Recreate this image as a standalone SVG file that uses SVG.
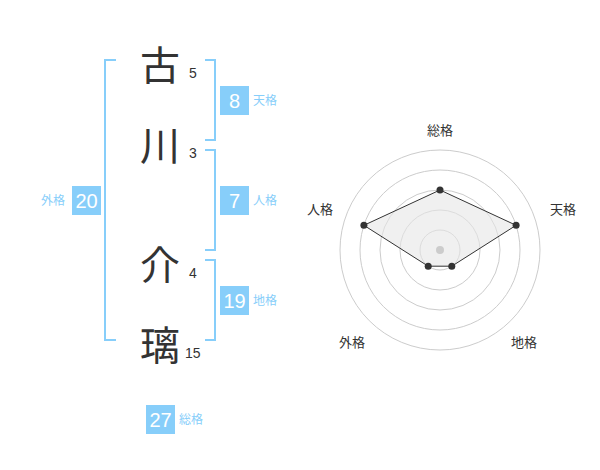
<svg xmlns="http://www.w3.org/2000/svg" width="600" height="470" viewBox="0 0 600 470">
<style>
.kanji{font-family:"Noto Sans CJK JP","Noto Sans CJK SC",sans-serif;font-size:40px;fill:#333;text-anchor:middle}
.strk{font-family:"Liberation Sans",Arial,sans-serif;font-size:14px;fill:#333}
.brk{fill:none;stroke:#87cefa;stroke-width:2}
.box{fill:#87cefa}
.bnum{font-family:"Liberation Sans",Arial,sans-serif;font-size:20px;fill:#fff;text-anchor:middle}
.blab{font-family:"Noto Sans CJK JP",sans-serif;font-size:12px;fill:#87cefa}
.ring{fill:none;stroke:#ccc;stroke-width:1}
.rlab{font-family:"Noto Sans CJK JP",sans-serif;font-size:13px;fill:#333;text-anchor:middle}
.pt{fill:#333}
</style>
<rect width="600" height="470" fill="#fff"/>
<g id="connectors">
<path class="brk" d="M116,60 H105 V340 H116"/>
<path class="brk" d="M205,60 H215 V140 H205"/>
<path class="brk" d="M205,150 H215 V250 H205"/>
<path class="brk" d="M205,260 H215 V340 H205"/>
</g>
<g id="char-1"><text class="kanji" x="160" y="80">古</text><text class="strk" x="189" y="78">5</text></g>
<g id="char-2"><text class="kanji" x="160" y="160">川</text><text class="strk" x="189" y="158">3</text></g>
<g id="char-3"><text class="kanji" x="160" y="280">介</text><text class="strk" x="189" y="278">4</text></g>
<g id="char-4"><text class="kanji" x="160" y="360">璃</text><text class="strk" x="185" y="358">15</text></g>
<g id="tenkaku"><rect class="box" x="220" y="86" width="29" height="29"/><text class="bnum" x="234.5" y="108">8</text><text class="blab" x="253" y="105">天格</text></g>
<g id="jinkaku"><rect class="box" x="220" y="186" width="29" height="29"/><text class="bnum" x="234.5" y="208">7</text><text class="blab" x="253" y="205">人格</text></g>
<g id="chikaku"><rect class="box" x="220" y="286" width="29" height="29"/><text class="bnum" x="234.5" y="308">19</text><text class="blab" x="253" y="305">地格</text></g>
<g id="gaikaku"><rect class="box" x="72" y="186" width="29" height="29"/><text class="bnum" x="86.5" y="208">20</text><text class="blab" x="41" y="205">外格</text></g>
<g id="soukaku"><rect class="box" x="146" y="405" width="29" height="29"/><text class="bnum" x="160.5" y="427">27</text><text class="blab" x="179" y="424">総格</text></g>
<g id="radar">
<circle class="ring" cx="440" cy="250" r="20"/>
<circle class="ring" cx="440" cy="250" r="40"/>
<circle class="ring" cx="440" cy="250" r="60"/>
<circle class="ring" cx="440" cy="250" r="80"/>
<circle class="ring" cx="440" cy="250" r="100"/>
<polygon points="440,190 516.1,225.3 451.8,266.2 428.2,266.2 363.9,225.3" fill="#e6e6e6" fill-opacity="0.6" stroke="#333" stroke-width="1"/>
<circle cx="440" cy="250" r="4" fill="#ccc"/>
<circle class="pt" cx="440" cy="190" r="3.5"/>
<circle class="pt" cx="516.1" cy="225.3" r="3.5"/>
<circle class="pt" cx="451.8" cy="266.2" r="3.5"/>
<circle class="pt" cx="428.2" cy="266.2" r="3.5"/>
<circle class="pt" cx="363.9" cy="225.3" r="3.5"/>
<text class="rlab" x="440" y="135">総格</text>
<text class="rlab" x="563" y="214">天格</text>
<text class="rlab" x="320" y="214">人格</text>
<text class="rlab" x="352" y="347">外格</text>
<text class="rlab" x="524" y="347">地格</text>
</g>
</svg>
